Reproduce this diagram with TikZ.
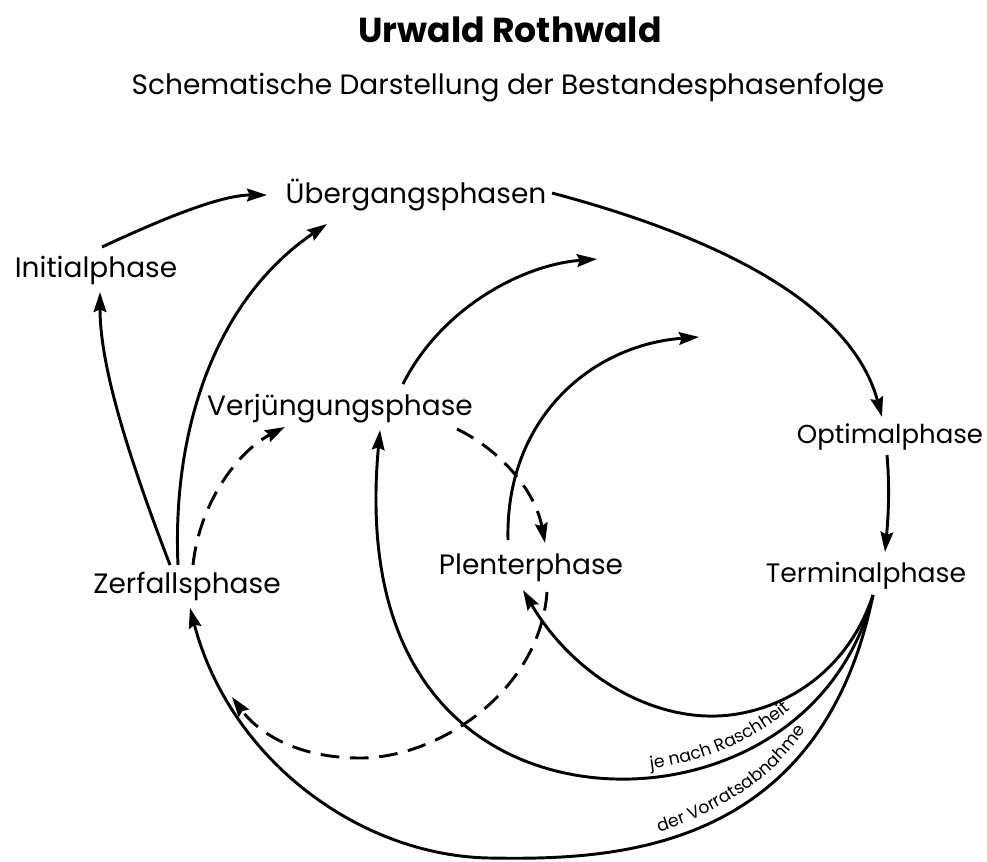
\documentclass[tikz,border=0pt]{standalone}
\usepackage{fontspec}
\setmainfont{Poppins}
\usetikzlibrary{arrows.meta,decorations.text}
\begin{document}
\begin{tikzpicture}[x=0.75pt,y=-0.75pt,
  line width=2.2pt,
  lbl/.style={inner sep=0pt,anchor=base,font=\fontsize{21pt}{24pt}\selectfont},
  arr/.style={-{Stealth[length=15pt,width=9.5pt,inset=2pt]}},
  dsh/.style={arr,dash pattern=on 14pt off 8pt},
  curvetext/.style={decoration={text along path,text align=center,
     text={|\fontsize{13pt}{15pt}\selectfont|#1}},decorate}]
\useasboundingbox (0,0) rectangle (987,861);

\node[inner sep=0pt,anchor=base,font=\fontsize{26pt}{30pt}\selectfont\bfseries] (title) at (510,42) {Urwald Rothwald};
\node[inner sep=0pt,anchor=base,font=\fontsize{21pt}{24pt}\selectfont] (sub) at (508,94) {Schematische Darstellung der Bestandesphasenfolge};

\node[lbl] (uber) at (416,203) {Übergangsphasen};
\node[lbl] (init) at (96,277) {Initialphase};
\node[lbl] (verj) at (340,415) {Verjüngungsphase};
\node[lbl,font=\fontsize{19.5pt}{22pt}\selectfont] (opt) at (890,443) {Optimalphase};
\node[lbl] (zerf) at (187,593) {Zerfallsphase};
\node[lbl] (plen) at (531,574) {Plenterphase};
\node[lbl,font=\fontsize{20pt}{23pt}\selectfont] (term) at (866,582) {Terminalphase};

\coordinate (f1) at (597,259);
\coordinate (f2) at (699,337);

% Initial -> Uebergang
\draw[arr] ([shift={(6,-30)}]init.base) .. controls (160,220) and (220,195) .. ([shift={(-149,-8)}]uber.base);
% Uebergang -> Optimal
\draw[arr] ([shift={(136,-10)}]uber.base) .. controls (710,235) and (850,300) .. ([shift={(-8,-26)}]opt.base);
% Optimal -> Terminal
\draw[arr] ([shift={(-3,12)}]opt.base) .. controls (890,490) and (888,520) .. ([shift={(19,-30)}]term.base);
% Zerfall -> Initial
\draw[arr] ([shift={(-17,-28)}]zerf.base) .. controls (122,440) and (100,360) .. ([shift={(4,15)}]init.base);
% Zerfall -> Uebergang
\draw[arr] ([shift={(-9,-28)}]zerf.base) .. controls (172,430) and (215,300) .. ([shift={(-89,21)}]uber.base);
% Zerfall -> Verjuengung (dashed)
\draw[dsh] ([shift={(6,-28)}]zerf.base) .. controls (200,500) and (240,450) .. ([shift={(-55,12)}]verj.base);
% Verjuengung -> Plenter (dashed)
\draw[dsh] ([shift={(117,14)}]verj.base) .. controls (500,450) and (535,490) .. ([shift={(14,-31)}]plen.base);
% Verjuengung -> free
\draw[arr] ([shift={(63,-31)}]verj.base) .. controls (440,310) and (520,265) .. (f1);
% Plenter -> free
\draw[arr] ([shift={(-23,-34)}]plen.base) .. controls (505,420) and (590,345) .. (f2);
% Plenter -> Zerfall (dashed)
\draw[dsh] ([shift={(16,18)}]plen.base) .. controls (540,690) and (440,758) .. (360,758)
   .. controls (300,758) and (260,735) .. ([shift={(45,104)}]zerf.base);
% Terminal -> Plenter
\draw[arr] ([shift={(7,13)}]term.base) .. controls (845,680) and (770,718) .. (707,716)
   .. controls (640,714) and (570,670) .. ([shift={(-8,16)}]plen.base);
% Terminal -> Verjuengung
\draw[arr] ([shift={(7,13)}]term.base) .. controls (840,725) and (720,782) .. (615,779)
   .. controls (500,776) and (355,700) .. ([shift={(40,15)}]verj.base);
% Terminal -> Zerfall
\draw[arr] ([shift={(7,13)}]term.base) .. controls (820,855) and (610,860) .. (490,858)
   .. controls (360,856) and (230,760) .. ([shift={(3,15)}]zerf.base);

\path[curvetext={je nach Raschheit}] (642,770) .. controls (700,764) and (757,740) .. (797,704);
\path[curvetext={der Vorratsabnahme}] (650,835) .. controls (720,814) and (777,778) .. (811,722);
\end{tikzpicture}
\end{document}
